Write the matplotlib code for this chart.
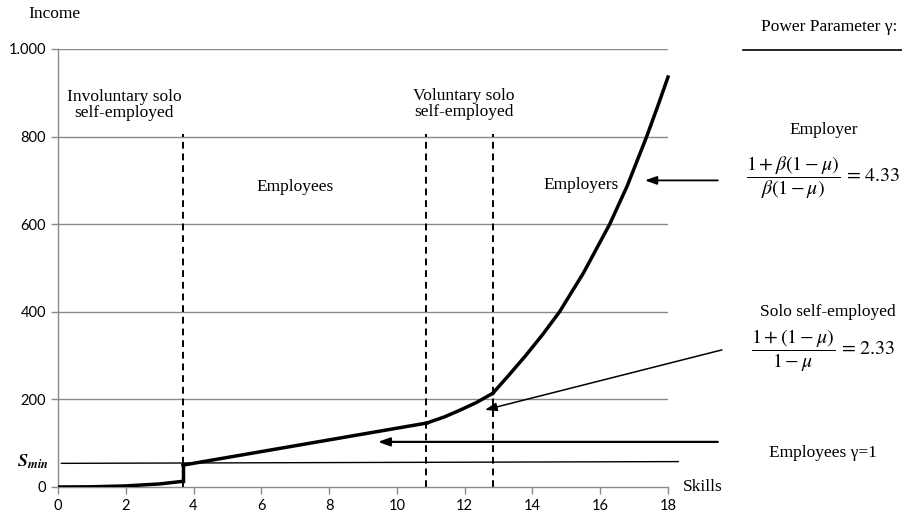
import matplotlib
matplotlib.use("Agg")
import matplotlib.pyplot as plt
from matplotlib.lines import Line2D

plt.rcParams['mathtext.fontset'] = 'stix'

# ---- data ----
invol_x = [0, 1, 2, 3, 3.69]
invol_y = [0, 0.5, 2.5, 7, 13]
empl_x = [3.69, 10.88]
empl_y = [50, 146]
volsolo_x = [10.88, 11.4, 11.85, 12.35, 12.83]
volsolo_y = [146, 160, 175, 193, 214]
employer_x = [12.83, 13.3, 13.8, 14.3, 14.8, 15.5, 16.28, 16.8, 17.37, 17.7, 18.0]
employer_y = [214, 255, 300, 348, 400, 488, 600, 688, 800, 870, 936]
smin_x = [0.1, 18.3]
smin_y = [54, 58]
thresholds = [3.69, 10.85, 12.85]
xticks = [0, 2, 4, 6, 8, 10, 12, 14, 16, 18]
yticks = [0, 200, 400, 600, 800, 1000]
ytick_labels = ['0', '200', '400', '600', '800', '1.000']

W, H = 902, 512
fig = plt.figure(figsize=(W / 100, H / 100), dpi=100)
ax = fig.add_axes([58 / W, 25 / H, 610 / W, 438 / H])
ax.set_xlim(0, 18)
ax.set_ylim(0, 1000)

grid_c = '#8a8a8a'
for y in yticks[1:]:
    ax.axhline(y, color=grid_c, lw=1.0, zorder=1)
for s in ['top', 'right']:
    ax.spines[s].set_visible(False)
for s in ['left', 'bottom']:
    ax.spines[s].set_color(grid_c)
    ax.spines[s].set_linewidth(1.0)

ax.set_xticks(xticks)
ax.set_yticks(yticks)
ax.set_yticklabels(ytick_labels)
ax.tick_params(axis='both', colors=grid_c, length=5, width=1, labelcolor='black',
               labelsize=10.5)
for lab in ax.get_xticklabels() + ax.get_yticklabels():
    lab.set_family('Lato')

# S_min line
ax.plot(smin_x, smin_y, color='black', lw=1.0, clip_on=False, zorder=2)

# thresholds dashed
for t in thresholds:
    ax.plot([t, t], [0, 805], color='black', lw=1.4, ls=(0, (3.5, 2.5)), zorder=2)

# main curve
ax.plot(invol_x, invol_y, color='black', lw=2.5, zorder=3, solid_capstyle='butt')
ax.plot([invol_x[-1], empl_x[0]], [invol_y[-1], empl_y[0]], color='black', lw=2.5, zorder=3)
ax.plot(empl_x, empl_y, color='black', lw=2.5, zorder=3)
ax.plot(volsolo_x, volsolo_y, color='black', lw=2.5, zorder=3, solid_joinstyle='round')
ax.plot(employer_x, employer_y, color='black', lw=2.5, zorder=3, clip_on=False,
        solid_joinstyle='round')

# arrows
arr = dict(arrowstyle='-|>,head_length=0.7,head_width=0.25', color='black', shrinkA=0, shrinkB=0)
ax.annotate('', xy=(17.32, 700), xytext=(19.47, 700), arrowprops=dict(arr, lw=1.3),
            annotation_clip=False)
ax.annotate('', xy=(12.6, 176), xytext=(19.59, 313), arrowprops=dict(arr, lw=1.1),
            annotation_clip=False)
ax.annotate('', xy=(9.44, 103), xytext=(19.47, 103), arrowprops=dict(arr, lw=1.6),
            annotation_clip=False)

serif = 'Liberation Serif'
fs = 12.5


def ftext(px, py, s, **kw):
    kw.setdefault('ha', 'center')
    kw.setdefault('va', 'center')
    kw.setdefault('family', serif)
    kw.setdefault('fontsize', fs)
    fig.text(px / W, 1 - py / H, s, **kw)


ftext(54, 14, 'Income')
ftext(703, 487, 'Skills')
ftext(124, 105, 'Involuntary solo\nself-employed', linespacing=1.05)
ftext(464, 104, 'Voluntary solo\nself-employed', linespacing=1.05)
ftext(295, 187, 'Employees')
ftext(581, 185, 'Employers')
ftext(829, 27, 'Power Parameter γ:')
fig.add_artist(Line2D([743 / W, 1.0], [1 - 50 / H, 1 - 50 / H], color='black', lw=1.2))
ftext(824, 130, 'Employer')
ftext(746, 178, r'$\dfrac{1+\beta(1-\mu)}{\beta(1-\mu)}\,=\,4.33$', ha='left', fontsize=14.3)
ftext(828, 312, 'Solo self-employed')
ftext(751, 351, r'$\dfrac{1+(1-\mu)}{1-\mu}\,=\,2.33$', ha='left', fontsize=14.3)
ftext(823, 453, 'Employees γ=1')
ftext(33, 462, r'$\mathbfit{S}_{\mathbfit{min}}$', fontsize=13)

fig.savefig('out.png', dpi=100)
